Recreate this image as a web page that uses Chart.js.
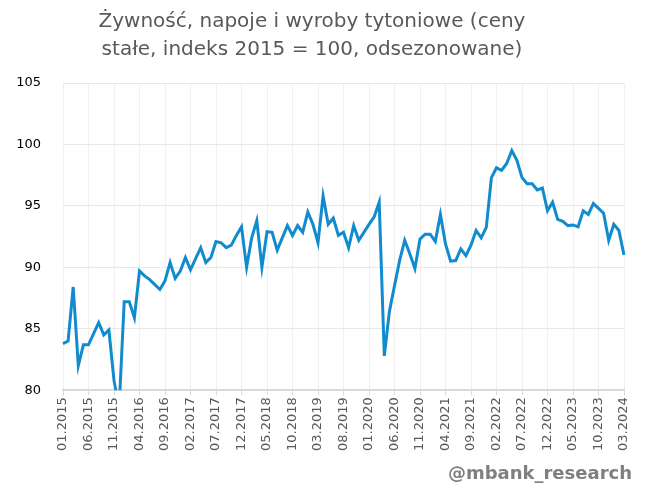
<!DOCTYPE html>
<html>
<head>
<meta charset="utf-8">
<script src="https://cdn.jsdelivr.net/npm/chart.js@4"></script>
<style>
  html, body { margin: 0; padding: 0; background: #fff; }
  #box { width: 649px; height: 491px; }
</style>
</head>
<body>
<div id="box"><canvas id="food-chart"></canvas></div>
<script>
// Dane: miesiące od 01.2015 do 03.2024
var startYear = 2015;
var monthCount = 111;
var tickLabels = ['01.2015', '06.2015', '11.2015', '04.2016', '09.2016', '02.2017', '07.2017', '12.2017',
  '05.2018', '10.2018', '03.2019', '08.2019', '01.2020', '06.2020', '11.2020', '04.2021', '09.2021',
  '02.2022', '07.2022', '12.2022', '05.2023', '10.2023', '03.2024'];
var foodIndex = [
  83.8, 84.0, 88.4, 82.0, 83.7, 83.7, 84.6, 85.5, 84.5, 84.9, 80.8, 78.5,
  87.2, 87.2, 85.9, 89.7, 89.3, 89.0, 88.6, 88.2, 88.9, 90.4, 89.1, 89.7,
  90.8, 89.8, 90.7, 91.6, 90.4, 90.8, 92.1, 92.0, 91.6, 91.8, 92.6, 93.3,
  90.0, 92.4, 93.8, 90.0, 92.9, 92.85, 91.4, 92.4, 93.4, 92.6, 93.4, 92.85,
  94.5, 93.5, 92.0, 95.8, 93.5, 94.0, 92.6, 92.85, 91.6, 93.4, 92.2, 92.85,
  93.5, 94.1, 95.3, 82.8, 86.4, 88.5, 90.55, 92.2, 91.1, 89.9, 92.3, 92.7,
  92.7, 92.1, 94.3, 91.9, 90.5, 90.55, 91.5, 90.95, 91.8, 93.0, 92.4, 93.25,
  97.3, 98.1, 97.9, 98.45, 99.5, 98.7, 97.3, 96.8, 96.8, 96.3, 96.45, 94.6,
  95.3, 93.9, 93.75, 93.4, 93.45, 93.3, 94.6, 94.3, 95.2, 94.8, 94.4, 92.2,
  93.5, 93.0, 91.0
];
var sourceText = '@mbank_research';

// etykiety kategorii MM.RRRR
var months = [];
for (var i = 0; i < monthCount; i++) {
  var m = i % 12 + 1;
  months.push((m < 10 ? '0' + m : '' + m) + '.' + (startYear + Math.floor(i / 12)));
}

// podpis w prawym dolnym rogu
var watermark = {
  id: 'watermark',
  afterDraw: function (chart) {
    var c = chart.ctx;
    c.save();
    c.font = 'bold 18px "DejaVu Sans"';
    c.fillStyle = '#7f7f7f';
    c.textAlign = 'right';
    c.textBaseline = 'middle';
    c.fillText(sourceText, chart.width - 17, chart.height - 17);
    c.restore();
  }
};

var ctx = document.getElementById('food-chart').getContext('2d');
var chart = new Chart(ctx, {
  type: 'line',
  data: {
    labels: months,
    datasets: [{
      label: 'Żywność',
      data: foodIndex,
      borderColor: '#118bcd',
      borderWidth: 3,
      pointRadius: 0,
      fill: false,
      tension: 0
    }]
  },
  plugins: [watermark],
  options: {
    responsive: true,
    maintainAspectRatio: false,
    animation: false,
    layout: { padding: { left: 0, right: 25, top: 6, bottom: 38 } },
    plugins: {
      legend: { display: false },
      tooltip: { enabled: false },
      title: {
        display: true,
        text: ['Żywność, napoje i wyroby tytoniowe (ceny', 'stałe, indeks 2015 = 100, odsezonowane)'],
        color: '#595959',
        font: { family: 'DejaVu Sans', size: 20, weight: 'normal', lineHeight: 1.4 },
        padding: { top: 2, bottom: 19 }
      }
    },
    scales: {
      x: {
        ticks: {
          autoSkip: false,
          maxRotation: 90,
          minRotation: 90,
          color: '#595959',
          font: { family: 'DejaVu Sans', size: 13 },
          padding: 2,
          callback: function (v, idx) {
            var lab = months[idx];
            return tickLabels.indexOf(lab) >= 0 ? lab : '';
          }
        },
        grid: {
          color: function (c) { return c.index % 5 === 0 ? '#f0f0f0' : 'rgba(0,0,0,0)'; },
          tickColor: function (c) { return c.index % 5 === 0 ? '#d9d9d9' : 'rgba(0,0,0,0)'; },
          tickLength: 5
        },
        border: { color: '#d9d9d9', width: 2 }
      },
      y: {
        min: 80,
        max: 105,
        ticks: {
          stepSize: 5,
          color: '#000',
          font: { family: 'DejaVu Sans', size: 13 },
          padding: 22
        },
        grid: { color: '#e8e8e8', drawTicks: false },
        border: { display: false },
        afterFit: function (s) { s.width = 63; }
      }
    }
  }
});
</script>
</body>
</html>
